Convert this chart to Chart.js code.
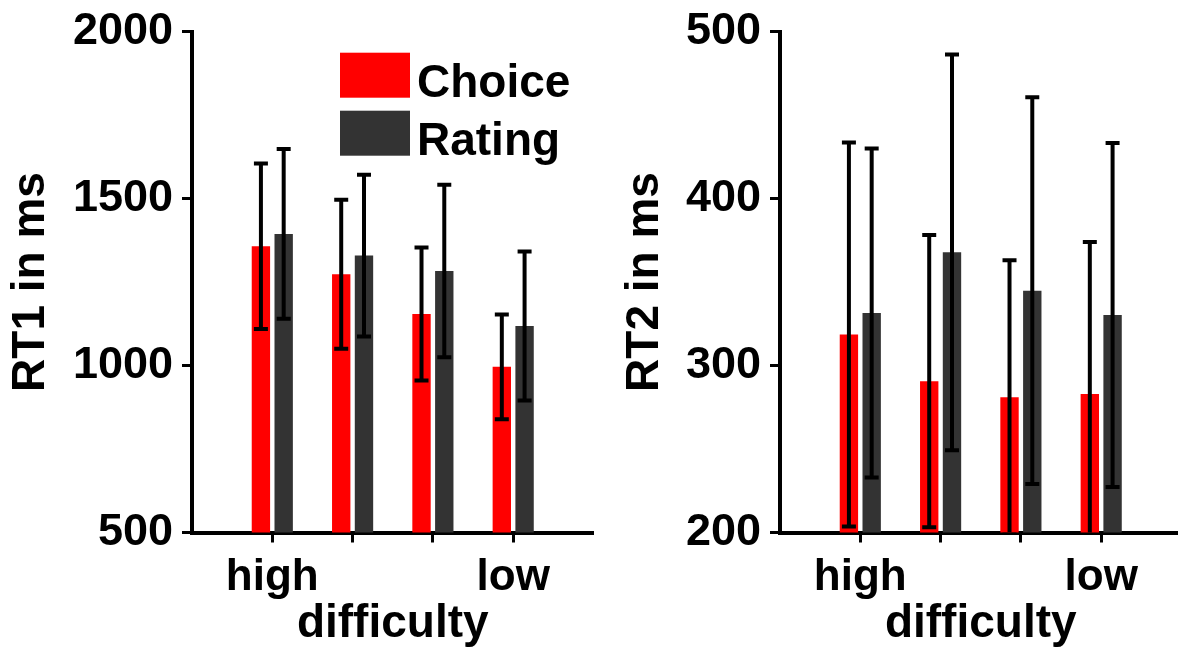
<!DOCTYPE html>
<html>
<head>
<meta charset="utf-8">
<script src="https://cdn.jsdelivr.net/npm/chart.js@4/dist/chart.umd.min.js"></script>
<style>
  body { margin: 0; width: 1178px; height: 648px; overflow: hidden; position: relative; background: #fff; }
  .panel { position: absolute; top: 0; width: 600px; height: 648px; }
</style>
</head>
<body>
<div class="panel" style="left:0px"><canvas id="rt1Chart"></canvas></div>
<div class="panel" style="left:588px"><canvas id="rt2Chart"></canvas></div>
<script>
const difficulty = ['high', '', '', 'low'];
const seriesNames = ['Choice', 'Rating'];

const rt1Choice = [1357, 1273, 1154, 996];
const rt1ChoiceErr = [248, 223, 199, 157];
const rt1Rating = [1394, 1329, 1283, 1118];
const rt1RatingErr = [254, 242, 258, 223];

const rt2Choice = [318.6, 290.6, 281, 282.9];
const rt2ChoiceErr = [115, 87.5, 82, 91];
const rt2Rating = [331.5, 367.8, 344.8, 330.3];
const rt2RatingErr = [98.5, 118.5, 115.8, 103];

const rt1Ticks = [500, 1000, 1500, 2000];
const rt2Ticks = [200, 300, 400, 500];

const FONT = "'Liberation Sans', Arial, Helvetica, sans-serif";
Chart.defaults.font.family = FONT;
Chart.defaults.font.weight = 'bold';
Chart.defaults.color = '#000';

// empty slot on each side so the groups sit at 1..4 of 0..5
const labels = ['', ...difficulty, ''];
const pad = (arr) => [null, ...arr, null];

const errorBars = {
  id: 'errorBars',
  afterDatasetsDraw(chart) {
    const { ctx, chartArea } = chart;
    const yScale = chart.scales.y;
    ctx.save();
    ctx.beginPath();
    ctx.rect(chartArea.left, chartArea.top, chartArea.right - chartArea.left, chartArea.bottom - chartArea.top);
    ctx.clip();
    ctx.strokeStyle = '#000';
    ctx.lineWidth = 4;
    chart.data.datasets.forEach((ds, i) => {
      const meta = chart.getDatasetMeta(i);
      meta.data.forEach((bar, j) => {
        const v = ds.data[j];
        const e = ds.errors[j];
        if (v == null || e == null) return;
        const x = bar.x;
        const top = yScale.getPixelForValue(v + e);
        const bot = yScale.getPixelForValue(v - e);
        ctx.beginPath();
        ctx.moveTo(x, top);
        ctx.lineTo(x, bot);
        ctx.moveTo(x - 7, top);
        ctx.lineTo(x + 7, top);
        ctx.moveTo(x - 7, bot);
        ctx.lineTo(x + 7, bot);
        ctx.stroke();
      });
    });
    ctx.restore();
  },
};

const boxLegend = {
  id: 'boxLegend',
  afterDraw(chart) {
    if (!chart.options.plugins.boxLegend.show) return;
    const { ctx } = chart;
    ctx.save();
    ctx.font = `bold 46px ${FONT}`;
    ctx.textBaseline = 'alphabetic';
    chart.data.datasets.forEach((ds, i) => {
      const y = 52.7 + i * 58;
      ctx.fillStyle = ds.backgroundColor;
      ctx.fillRect(340, y, 70, 45);
      ctx.fillStyle = '#000';
      ctx.fillText(ds.label, 417, y + 44);
    });
    ctx.restore();
  },
};

function makeChart(id, choice, choiceErr, rating, ratingErr, ticks, yTitle, yTitlePad, showLegend) {
  const ctx = document.getElementById(id).getContext('2d');
  return new Chart(ctx, {
    type: 'bar',
    data: {
      labels: labels,
      datasets: [
        { label: seriesNames[0], data: pad(choice), errors: pad(choiceErr), backgroundColor: '#ff0000' },
        { label: seriesNames[1], data: pad(rating), errors: pad(ratingErr), backgroundColor: '#333333' },
      ],
    },
    options: {
      responsive: true,
      maintainAspectRatio: false,
      animation: false,
      categoryPercentage: 0.567,
      barPercentage: 0.807,
      layout: { padding: { top: 31.5, right: 6.5, bottom: 0, left: 0 } },
      plugins: {
        legend: { display: false },
        tooltip: { enabled: false },
        boxLegend: { show: showLegend },
      },
      scales: {
        x: {
          type: 'category',
          offset: false,
          z: 1,
          afterFit: (scale) => {
            scale.height = 115.5;
            scale.paddingLeft = 0;
            scale.paddingRight = 0;
          },
          grid: {
            offset: false,
            drawOnChartArea: false,
            drawTicks: true,
            tickLength: 10,
            tickWidth: 3,
            tickColor: (c) => (c.index === 0 || c.index === labels.length - 1 ? 'rgba(0,0,0,0)' : '#000'),
          },
          border: { display: true, width: 4, color: '#000' },
          ticks: { autoSkip: false, maxRotation: 0, padding: 9, font: { size: 44 } },
          title: { display: true, text: 'difficulty', font: { size: 46, lineHeight: 1.05 }, padding: 0 },
        },
        y: {
          min: ticks[0],
          max: ticks[ticks.length - 1],
          z: 1,
          afterFit: (scale) => {
            scale.width = 192;
            scale.paddingTop = 0;
            scale.paddingBottom = 0;
          },
          afterBuildTicks: (scale) => { scale.ticks = ticks.map((v) => ({ value: v })); },
          grid: { drawOnChartArea: false, drawTicks: true, tickLength: 10, tickWidth: 3, tickColor: '#000' },
          border: { display: true, width: 4, color: '#000' },
          ticks: { padding: 9, font: { size: 45 }, callback: (v) => String(v) },
          title: { display: true, text: yTitle, font: { size: 46 }, padding: { top: yTitlePad, bottom: 0 } },
        },
      },
    },
    plugins: [errorBars, boxLegend],
  });
}

makeChart('rt1Chart', rt1Choice, rt1ChoiceErr, rt1Rating, rt1RatingErr, rt1Ticks, 'RT1 in ms', 4, true);
makeChart('rt2Chart', rt2Choice, rt2ChoiceErr, rt2Rating, rt2RatingErr, rt2Ticks, 'RT2 in ms', 30, false);
</script>
</body>
</html>
